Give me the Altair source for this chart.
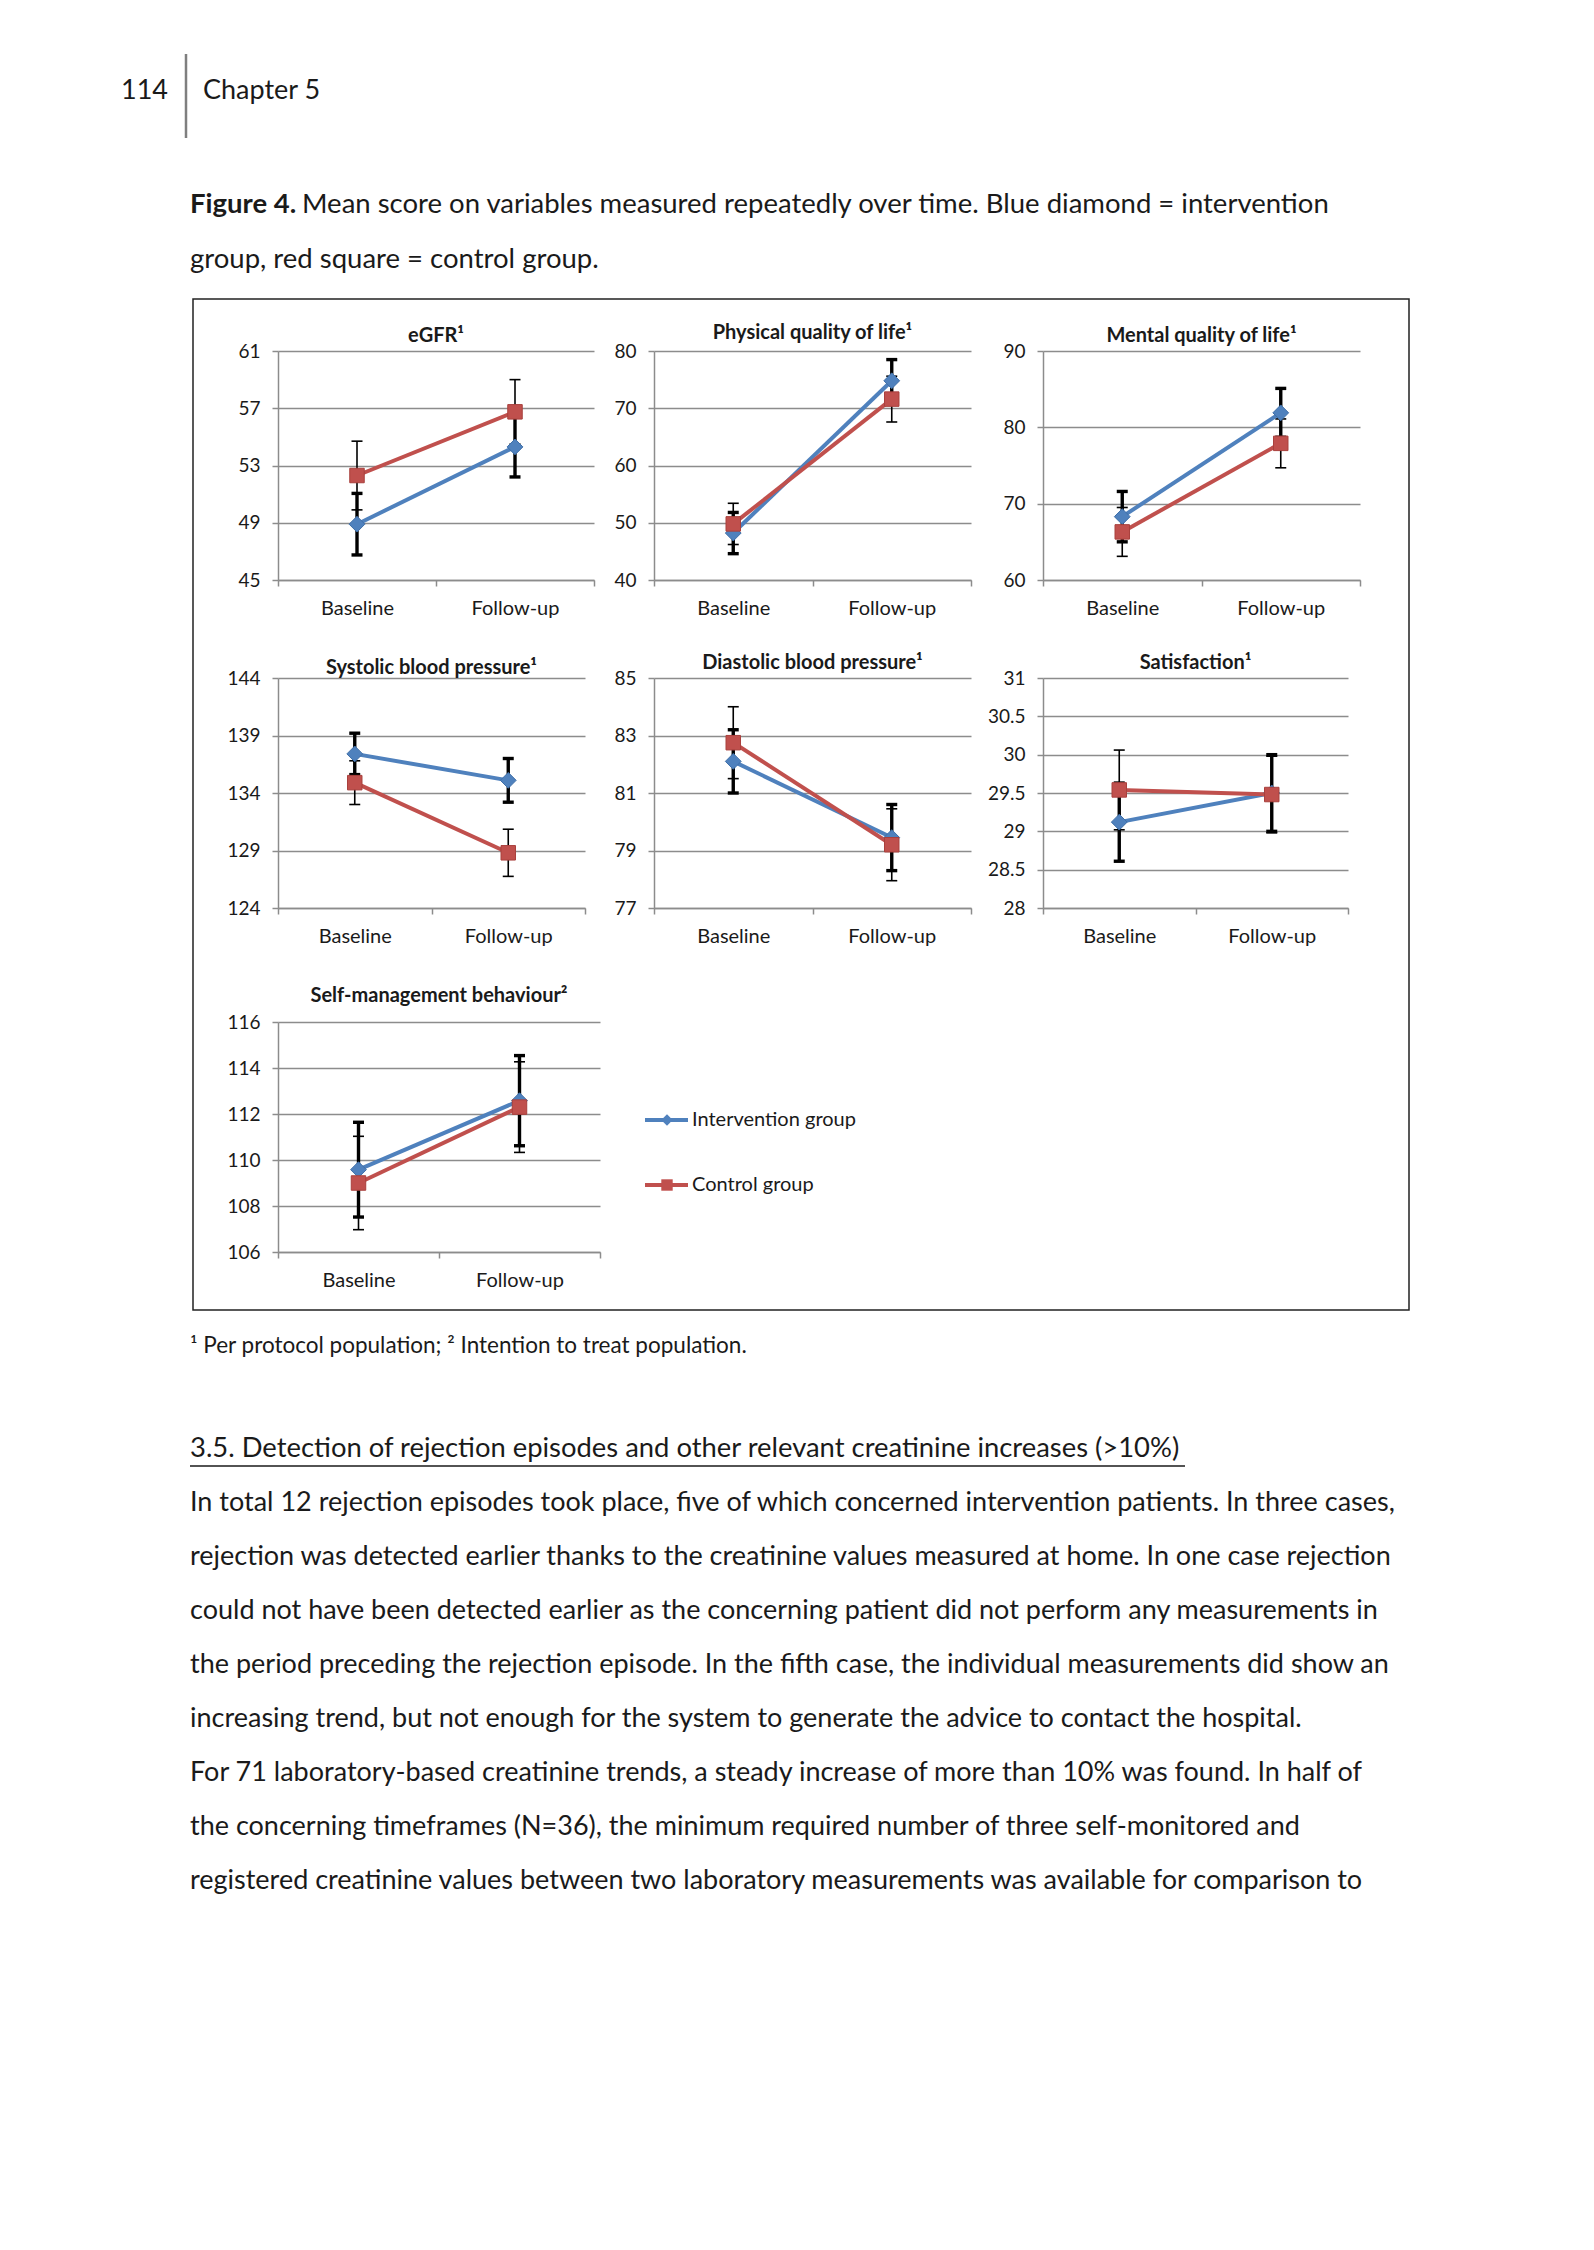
import altair as alt
import pandas as pd

FONT = "Lato"
TXT = "#1a1a1a"
GRID = "#8c8c8c"
BLUE = "#4F81BD"
RED = "#C0504D"

# ---------------- data ----------------
timepoints = ["Baseline", "Follow-up"]
groups = ["Intervention group", "Control group"]

titles = ["eGFR¹", "Physical quality of life¹", "Mental quality of life¹",
          "Systolic blood pressure¹", "Diastolic blood pressure¹", "Satisfaction¹",
          "Self-management behaviour²"]

egfr_int = [48.9, 54.3]
egfr_int_err = [2.15, 2.1]
egfr_ctl = [52.3, 56.75]
egfr_ctl_err = [2.4, 2.25]

pqol_int = [48.2, 74.8]
pqol_int_err = [3.6, 3.7]
pqol_ctl = [49.8, 71.6]
pqol_ctl_err = [3.6, 4.0]

mqol_int = [68.3, 81.9]
mqol_int_err = [3.3, 3.2]
mqol_ctl = [66.3, 77.9]
mqol_ctl_err = [3.2, 3.2]

sbp_int = [137.4, 135.1]
sbp_int_err = [1.8, 1.9]
sbp_ctl = [134.9, 128.8]
sbp_ctl_err = [1.9, 2.05]

dbp_int = [82.1, 79.45]
dbp_int_err = [1.1, 1.15]
dbp_ctl = [82.75, 79.2]
dbp_ctl_err = [1.25, 1.25]

sat_int = [29.12, 29.5]
sat_int_err = [0.51, 0.5]
sat_ctl = [29.54, 29.48]
sat_ctl_err = [0.52, 0.5]

smb_int = [109.58, 112.58]
smb_int_err = [2.06, 1.96]
smb_ctl = [109.0, 112.3]
smb_ctl_err = [2.03, 1.97]

egfr_ticks = [45, 49, 53, 57, 61]
pqol_ticks = [40, 50, 60, 70, 80]
mqol_ticks = [60, 70, 80, 90]
sbp_ticks = [124, 129, 134, 139, 144]
dbp_ticks = [77, 79, 81, 83, 85]
sat_ticks = [28, 28.5, 29, 29.5, 30, 30.5, 31]
smb_ticks = [106, 108, 110, 112, 114, 116]

header_page = "114"
header_chapter = "Chapter 5"
caption_bold = "Figure 4."
caption_rest = "Mean score on variables measured repeatedly over time. Blue diamond = intervention"
caption_line2 = "group, red square = control group."
footnote = "¹ Per protocol population; ² Intention to treat population."
heading = "3.5. Detection of rejection episodes and other relevant creatinine increases (>10%)"
body_lines = [
    "In total 12 rejection episodes took place, five of which concerned intervention patients. In three cases,",
    "rejection was detected earlier thanks to the creatinine values measured at home. In one case rejection",
    "could not have been detected earlier as the concerning patient did not perform any measurements in",
    "the period preceding the rejection episode. In the fifth case, the individual measurements did show an",
    "increasing trend, but not enough for the system to generate the advice to contact the hospital.",
    "For 71 laboratory-based creatinine trends, a steady increase of more than 10% was found. In half of",
    "the concerning timeframes (N=36), the minimum required number of three self-monitored and",
    "registered creatinine values between two laboratory measurements was available for comparison to",
]


# ---------------- helpers ----------------
def spacer(w, h):
    return alt.Chart(pd.DataFrame({"v": [0]})).mark_point(opacity=0, size=1).encode(
        x=alt.value(3), y=alt.value(3)).properties(width=w, height=h)


def panel(title, dom, ticks, im, ie, cm, ce, w, h, toff):
    def frame(m, e, g):
        return pd.DataFrame({
            "time": timepoints, "mean": m,
            "lo": [a - b for a, b in zip(m, e)],
            "hi": [a + b for a, b in zip(m, e)],
            "group": g})

    di = frame(im, ie, groups[0])
    dc = frame(cm, ce, groups[1])

    def X():
        return alt.X("time:N", sort=timepoints,
                     scale=alt.Scale(type="band", domain=timepoints, paddingInner=0, paddingOuter=0),
                     axis=alt.Axis(title=None, labelAngle=0, tickBand="extent", grid=False,
                                   domainColor=GRID, domainWidth=1.5, tickColor=GRID, tickWidth=1.5,
                                   tickSize=6, labelPadding=12, labelFont=FONT, labelFontSize=20,
                                   labelColor=TXT))

    def Y(f):
        return alt.Y(f"{f}:Q", scale=alt.Scale(domain=dom, nice=False, zero=False),
                     axis=alt.Axis(title=None, values=ticks, labelExpr="'' + datum.value", grid=True,
                                   gridColor=GRID, gridWidth=1.5, domainColor=GRID, domainWidth=1.5,
                                   tickColor=GRID, tickWidth=1.5, tickSize=6, labelPadding=12,
                                   labelFont=FONT, labelFontSize=19, labelColor=TXT))

    layers = []
    for d, sw in [(di, 3.4), (dc, 1.6)]:
        b = alt.Chart(d)
        layers.append(b.mark_rule(color="black", strokeWidth=sw).encode(x=X(), y=Y("lo"), y2="hi:Q"))
        layers.append(b.mark_tick(color="black", thickness=sw, size=11, opacity=1).encode(x=X(), y=Y("lo")))
        layers.append(b.mark_tick(color="black", thickness=sw, size=11, opacity=1).encode(x=X(), y=Y("hi")))
    layers.append(alt.Chart(di).mark_line(color=BLUE, strokeWidth=4).encode(x=X(), y=Y("mean")))
    layers.append(alt.Chart(dc).mark_line(color=RED, strokeWidth=4).encode(x=X(), y=Y("mean")))
    layers.append(alt.Chart(di).mark_point(shape="diamond", filled=True, size=250, fill=BLUE,
                                           stroke="#3F6FA8", strokeWidth=1, opacity=1).encode(x=X(), y=Y("mean")))
    layers.append(alt.Chart(dc).mark_point(shape="square", filled=True, size=210, fill=RED,
                                           stroke="#A9403D", strokeWidth=1, opacity=1).encode(x=X(), y=Y("mean")))
    return alt.layer(*layers).properties(
        width=w, height=h,
        title=alt.TitleParams(title, font=FONT, fontSize=20, fontWeight="bold", color=TXT,
                              anchor="middle", frame="group", offset=toff, baseline="middle"))


def txt(s, x, y, size, weight="normal", align="left"):
    return alt.Chart(pd.DataFrame({"t": [s]})).mark_text(
        align=align, baseline="middle", font=FONT, fontSize=size, fontWeight=weight, color=TXT
    ).encode(x=alt.value(x), y=alt.value(y), text="t:N")


# ---------------- page text & frame ----------------
body_df = pd.DataFrame({"line": body_lines, "row": list(range(len(body_lines)))})
page = alt.layer(
    txt(header_page, 160, 83, 27, align="right"),
    alt.Chart(pd.DataFrame({"v": [0]})).mark_rule(color="#7f7f7f", strokeWidth=2.5).encode(
        x=alt.value(178), y=alt.value(46), y2=alt.value(130)),
    txt(header_chapter, 195, 83, 27),
    txt(caption_bold, 182, 197, 27.5, weight="bold"),
    txt(caption_rest, 294, 197, 27.5),
    txt(caption_line2, 182, 252, 27.5),
    alt.Chart(pd.DataFrame({"v": [0]})).mark_rect(fill="transparent", stroke="#222222", strokeWidth=1.5).encode(
        x=alt.value(185), x2=alt.value(1401), y=alt.value(291), y2=alt.value(1302)),
    txt(footnote, 182, 1338, 22.5),
    txt(heading, 182, 1441, 27.4),
    alt.Chart(pd.DataFrame({"v": [0]})).mark_rule(color=TXT, strokeWidth=1.5).encode(
        x=alt.value(182), x2=alt.value(1177), y=alt.value(1458)),
    alt.Chart(body_df).mark_text(align="left", baseline="middle", font=FONT, fontSize=27, color=TXT).encode(
        x=alt.value(182),
        y=alt.Y("row:Q", scale=alt.Scale(domain=[0, 7], range=[1495, 1873]), axis=None),
        text="line:N"),
).properties(width=270, height=343)

# ---------------- legend ----------------
leg_df = pd.DataFrame({"group": groups})
LY = alt.Y("group:N", scale=alt.Scale(type="point", domain=groups, range=[98, 163], padding=0), axis=None)
LC = alt.Color("group:N", scale=alt.Scale(domain=groups, range=[BLUE, RED]), legend=None)
legend = alt.layer(
    alt.Chart(leg_df).mark_rule(strokeWidth=4).encode(x=alt.value(-9), x2=alt.value(34), y=LY, color=LC),
    alt.Chart(leg_df).mark_point(filled=True, opacity=1, size=130).encode(
        x=alt.value(13), y=LY, color=LC,
        shape=alt.Shape("group:N", scale=alt.Scale(domain=groups, range=["diamond", "square"]), legend=None)),
    alt.Chart(leg_df).mark_text(align="left", baseline="middle", font=FONT, fontSize=20, color=TXT).encode(
        x=alt.value(38), y=LY, text="group:N"),
).properties(width=1, height=1)

# ---------------- panels ----------------
p1 = panel(titles[0], [45, 61], egfr_ticks, egfr_int, egfr_int_err, egfr_ctl, egfr_ctl_err, 316, 229, -14)
p2 = panel(titles[1], [40, 80], pqol_ticks, pqol_int, pqol_int_err, pqol_ctl, pqol_ctl_err, 317, 229, -11)
p3 = panel(titles[2], [60, 90], mqol_ticks, mqol_int, mqol_int_err, mqol_ctl, mqol_ctl_err, 317, 229, -14)
p4 = panel(titles[3], [124, 144], sbp_ticks, sbp_int, sbp_int_err, sbp_ctl, sbp_ctl_err, 307, 230, -19)
p5 = panel(titles[4], [77, 85], dbp_ticks, dbp_int, dbp_int_err, dbp_ctl, dbp_ctl_err, 317, 230, -14)
p6 = panel(titles[5], [28, 31], sat_ticks, sat_int, sat_int_err, sat_ctl, sat_ctl_err, 305, 230, -14)
p7 = panel(titles[6], [106, 116], smb_ticks, smb_int, smb_int_err, smb_ctl, smb_ctl_err, 322, 230, -3)

cells = [
    page, spacer(1, 1), spacer(54, 1), spacer(1, 1), spacer(72, 1), spacer(1, 1),
    spacer(1, 229), p1, spacer(54, 1), p2, spacer(72, 1), p3,
    spacer(1, 98), spacer(1, 1), spacer(1, 1), spacer(1, 1), spacer(1, 1), spacer(1, 1),
    spacer(1, 230), p4, spacer(1, 1), p5, spacer(1, 1), p6,
    spacer(1, 114), spacer(1, 1), spacer(1, 1), spacer(1, 1), spacer(1, 1), spacer(1, 1),
    spacer(1, 230), p7, spacer(1, 1), legend, spacer(1, 1), spacer(1, 1),
]

chart = alt.concat(*cells, columns=6, spacing=0, bounds="flush").resolve_scale(
    x="independent", y="independent", color="independent", shape="independent"
).properties(padding=0, background="white").configure_view(strokeWidth=0)

chart.save("out.html", embed_options={"renderer": "svg", "actions": False})
